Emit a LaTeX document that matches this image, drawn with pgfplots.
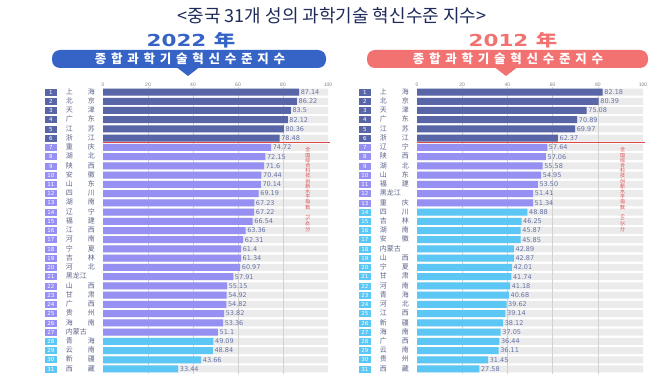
\documentclass[border=0pt]{standalone}
\usepackage{fontspec}
\setmainfont{Liberation Sans}
\newfontfamily\kr{Noto Sans CJK KR}
\newfontfamily\zh{Noto Sans CJK SC}
\newfontfamily\dv{DejaVu Sans}
\usepackage{graphicx}
\usepackage{pgfplots}
\usepackage{pgfplotstable}
\pgfplotsset{compat=1.18}
\setlength{\fboxsep}{0pt}

\definecolor{cdark}{HTML}{5865A6}
\definecolor{cpur}{HTML}{9690F2}
\definecolor{clb}{HTML}{5CC6F4}
\definecolor{cbg}{HTML}{EBEBEB}
\definecolor{cgrid}{HTML}{D2D2D2}
\definecolor{cval}{HTML}{6672A6}
\definecolor{cname}{HTML}{5C6488}
\definecolor{cblue}{HTML}{3563C6}
\definecolor{cred}{HTML}{F27171}
\definecolor{cline}{HTML}{E04848}
\definecolor{ctitle}{HTML}{1E2A5A}

\newcommand{\rk}[3]{\colorbox{#1}{\makebox[12pt]{\rule[-1.5pt]{0pt}{7pt}\textcolor{white}{\dv\fontsize{5.5}{6}\selectfont #2}}}\hspace{9pt}\makebox[29pt][l]{\zh\fontsize{7}{7}\selectfont\color{cname}#3}}

\pgfplotstableread{
rank val lab
1 87.14 87.14
2 86.22 86.22
3 83.5 83.5
4 82.12 82.12
5 80.36 80.36
6 78.48 78.48
7 74.72 74.72
8 72.15 72.15
9 71.6 71.6
10 70.44 70.44
11 70.14 70.14
12 69.19 69.19
13 67.23 67.23
14 67.22 67.22
15 66.54 66.54
16 63.36 63.36
17 62.31 62.31
18 61.4 61.4
19 61.34 61.34
20 60.97 60.97
21 57.91 57.91
22 55.15 55.15
23 54.92 54.92
24 54.82 54.82
25 53.82 53.82
26 53.36 53.36
27 51.1 51.1
28 49.09 49.09
29 48.84 48.84
30 43.66 43.66
31 33.44 33.44
}\dataA

\pgfplotstableread{
rank val lab
1 82.18 82.18
2 80.39 80.39
3 75.08 75.08
4 70.89 70.89
5 69.97 69.97
6 62.37 62.37
7 57.64 57.64
8 57.06 57.06
9 55.58 55.58
10 54.95 54.95
11 53.50 53.50
12 51.41 51.41
13 51.34 51.34
14 48.88 48.88
15 46.25 46.25
16 45.87 45.87
17 45.85 45.85
18 42.89 42.89
19 42.87 42.87
20 42.01 42.01
21 41.74 41.74
22 41.18 41.18
23 40.68 40.68
24 39.62 39.62
25 39.14 39.14
26 38.12 38.12
27 37.05 37.05
28 36.44 36.44
29 36.11 36.11
30 31.45 31.45
31 27.58 27.58
}\dataB

\tikzset{vt/.style={text=cline, align=center, inner sep=0pt, font=\zh\fontsize{5}{5.2}\selectfont}}

\pgfplotsset{
  panel/.style={
    anchor=south west, scale only axis, height=286.2pt,
    xmin=0, xmax=100, ymin=0.5, ymax=31.5, y dir=reverse,
    axis line style={draw=none}, tick style={draw=none},
    xtick={0,20,...,100}, xticklabel pos=upper,
    xticklabel style={font=\fontsize{5}{5}\selectfont, text=gray, inner sep=1pt},
    /pgf/number format/assume math mode=true,
    ytick={1,...,31},
    yticklabel style={anchor=east, inner sep=0pt, xshift=-8pt},
    clip=false,
  },
  bg/.style={xbar, bar width=7pt, bar shift=0pt, fill=cbg, draw=none},
  br/.style={xbar, bar width=7pt, bar shift=0pt, fill=#1, draw=none,
    point meta=explicit symbolic, nodes near coords,
    nodes near coords style={font=\dv\fontsize{6.5}{7}\selectfont, text=cval, anchor=west, inner sep=1.5pt}},
  gl/.style={cgrid, line width=0.5pt, no marks, forget plot},
}

\begin{document}
\begin{tikzpicture}[x=1pt,y=1pt]
\useasboundingbox (0,0) rectangle (664,381);

% title
\node[text=ctitle] at (332,365) {\kr\fontsize{18}{18}\selectfont <중국 31개 성의 과학기술 혁신수준 지수>};

% left header
\node[text=cblue] at (191,341) {\scalebox{1.3}[1]{\dv\bfseries\fontsize{16.5}{16.5}\selectfont 2022 {\zh\bfseries 年}}};
\fill[cblue, rounded corners=8pt] (52,313) rectangle (326,331);
\fill[cblue] (177,313.5) -- (199,313.5) -- (188,305) -- cycle;
\node[text=white] at (190,322) {\kr\bfseries\fontsize{12.5}{12.5}\selectfont\addfontfeatures{LetterSpace=38}종합과학기술혁신수준지수};

% right header
\node[text=cred] at (513,341) {\scalebox{1.3}[1]{\dv\bfseries\fontsize{16.5}{16.5}\selectfont 2012 {\zh\bfseries 年}}};
\fill[cred, rounded corners=8pt] (367,313) rectangle (648,331);
\fill[cred] (495,313.5) -- (517,313.5) -- (506,305) -- cycle;
\node[text=white] at (508,322) {\kr\bfseries\fontsize{12.5}{12.5}\selectfont\addfontfeatures{LetterSpace=38}종합과학기술혁신수준지수};

% ---------- 2022 ----------
\begin{axis}[panel, at={(103pt,7.4pt)}, width=225pt,
  yticklabels={
    {\rk{cdark}{1}{上\hfill 海}},{\rk{cdark}{2}{北\hfill 京}},{\rk{cdark}{3}{天\hfill 津}},
    {\rk{cdark}{4}{广\hfill 东}},{\rk{cdark}{5}{江\hfill 苏}},{\rk{cdark}{6}{浙\hfill 江}},
    {\rk{cpur}{7}{重\hfill 庆}},{\rk{cpur}{8}{湖\hfill 北}},{\rk{cpur}{9}{陕\hfill 西}},
    {\rk{cpur}{10}{安\hfill 徽}},{\rk{cpur}{11}{山\hfill 东}},{\rk{cpur}{12}{四\hfill 川}},
    {\rk{cpur}{13}{湖\hfill 南}},{\rk{cpur}{14}{辽\hfill 宁}},{\rk{cpur}{15}{福\hfill 建}},
    {\rk{cpur}{16}{江\hfill 西}},{\rk{cpur}{17}{河\hfill 南}},{\rk{cpur}{18}{宁\hfill 夏}},
    {\rk{cpur}{19}{吉\hfill 林}},{\rk{cpur}{20}{河\hfill 北}},{\rk{cpur}{21}{黑龙江}},
    {\rk{cpur}{22}{山\hfill 西}},{\rk{cpur}{23}{甘\hfill 肃}},{\rk{cpur}{24}{广\hfill 西}},
    {\rk{cpur}{25}{贵\hfill 州}},{\rk{cpur}{26}{海\hfill 南}},{\rk{cpur}{27}{内蒙古}},
    {\rk{clb}{28}{青\hfill 海}},{\rk{clb}{29}{云\hfill 南}},{\rk{clb}{30}{新\hfill 疆}},
    {\rk{clb}{31}{西\hfill 藏}}},
]
\addplot[bg] table[x expr=100, y=rank] {\dataA};
\addplot[gl] coordinates {(20,0.5) (20,31.5)};
\addplot[gl] coordinates {(40,0.5) (40,31.5)};
\addplot[gl] coordinates {(60,0.5) (60,31.5)};
\addplot[gl] coordinates {(80,0.5) (80,31.5)};
\addplot[br=cdark, restrict y to domain=1:6] table[x=val, y=rank, meta=lab] {\dataA};
\addplot[br=cpur, restrict y to domain=7:27] table[x=val, y=rank, meta=lab] {\dataA};
\addplot[br=clb, restrict y to domain=28:31] table[x=val, y=rank, meta=lab] {\dataA};
\draw[cline, line width=0.6pt] (axis cs:0,6.5) -- (axis cs:101,6.5);
\node[vt, anchor=north] at (axis cs:91,7.0)
  {全\\国\\综\\合\\科\\技\\创\\新\\水\\平\\指\\数\\\rotatebox{-90}{75.42}\\分};
\end{axis}

% ---------- 2012 ----------
\begin{axis}[panel, at={(417pt,7.4pt)}, width=226pt,
  yticklabels={
    {\rk{cdark}{1}{上\hfill 海}},{\rk{cdark}{2}{北\hfill 京}},{\rk{cdark}{3}{天\hfill 津}},
    {\rk{cdark}{4}{广\hfill 东}},{\rk{cdark}{5}{江\hfill 苏}},{\rk{cdark}{6}{浙\hfill 江}},
    {\rk{cpur}{7}{辽\hfill 宁}},{\rk{cpur}{8}{陕\hfill 西}},{\rk{cpur}{9}{湖\hfill 北}},
    {\rk{cpur}{10}{山\hfill 东}},{\rk{cpur}{11}{福\hfill 建}},{\rk{cpur}{12}{黑龙江}},
    {\rk{cpur}{13}{重\hfill 庆}},{\rk{clb}{14}{四\hfill 川}},{\rk{clb}{15}{吉\hfill 林}},
    {\rk{clb}{16}{湖\hfill 南}},{\rk{clb}{17}{安\hfill 徽}},{\rk{clb}{18}{内蒙古}},
    {\rk{clb}{19}{山\hfill 西}},{\rk{clb}{20}{宁\hfill 夏}},{\rk{clb}{21}{甘\hfill 肃}},
    {\rk{clb}{22}{河\hfill 南}},{\rk{clb}{23}{青\hfill 海}},{\rk{clb}{24}{河\hfill 北}},
    {\rk{clb}{25}{江\hfill 西}},{\rk{clb}{26}{新\hfill 疆}},{\rk{clb}{27}{海\hfill 南}},
    {\rk{clb}{28}{广\hfill 西}},{\rk{clb}{29}{云\hfill 南}},{\rk{clb}{30}{贵\hfill 州}},
    {\rk{clb}{31}{西\hfill 藏}}},
]
\addplot[bg] table[x expr=100, y=rank] {\dataB};
\addplot[gl] coordinates {(20,0.5) (20,31.5)};
\addplot[gl] coordinates {(40,0.5) (40,31.5)};
\addplot[gl] coordinates {(60,0.5) (60,31.5)};
\addplot[gl] coordinates {(80,0.5) (80,31.5)};
\addplot[br=cdark, restrict y to domain=1:6] table[x=val, y=rank, meta=lab] {\dataB};
\addplot[br=cpur, restrict y to domain=7:13] table[x=val, y=rank, meta=lab] {\dataB};
\addplot[br=clb, restrict y to domain=14:31] table[x=val, y=rank, meta=lab] {\dataB};
\draw[cline, line width=0.6pt] (axis cs:0,6.5) -- (axis cs:101,6.5);
\node[vt, anchor=north] at (axis cs:91,7.0)
  {全\\国\\综\\合\\科\\技\\创\\新\\水\\平\\指\\数\\\rotatebox{-90}{60.25}\\分};
\end{axis}
\end{tikzpicture}
\end{document}
